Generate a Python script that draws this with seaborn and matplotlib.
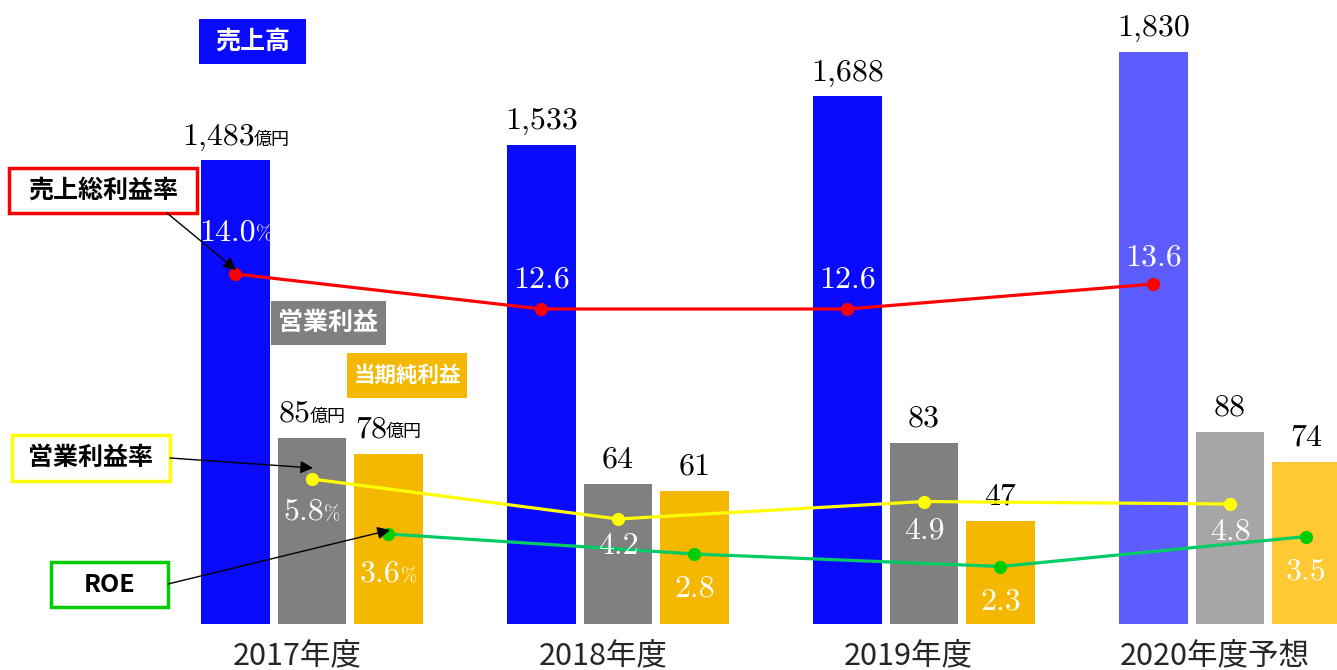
import numpy as np
import pandas as pd
import matplotlib
matplotlib.use("Agg")
import matplotlib.pyplot as plt
import matplotlib.colors as mcolors
import seaborn as sns
from matplotlib.offsetbox import TextArea, HPacker, AnnotationBbox
from matplotlib.patches import Rectangle, FancyArrowPatch

# ---------------- data ----------------
years = ["2017年度", "2018年度", "2019年度", "2020年度予想"]
series = ["売上高", "営業利益", "当期純利益"]
sales = [1483, 1533, 1688, 1830]
op_profit = [85, 64, 83, 88]
net_profit = [78, 61, 47, 74]
gross_margin = [14.0, 12.6, 12.6, 13.6]
op_margin = [5.8, 4.2, 4.9, 4.8]
roe = [3.6, 2.8, 2.3, 3.5]
sales_labels = ["1,483", "1,533", "1,688", "1,830"]
op_labels = ["85", "64", "83", "88"]
net_labels = ["78", "61", "47", "74"]
gross_labels = ["14.0", "12.6", "12.6", "13.6"]
op_m_labels = ["5.8", "4.2", "4.9", "4.8"]
roe_labels = ["3.6", "2.8", "2.3", "3.5"]

# ---------------- style ----------------
sns.set_theme(style="white")
plt.rcParams["font.family"] = ["Noto Sans CJK JP", "DejaVu Sans"]
NUM = "cmr10"
JP = ["Noto Sans CJK JP", "DejaVu Sans"]

palette = {"売上高": "#0A0AFF", "営業利益": "#808080", "当期純利益": "#F5B800"}
forecast = {"#0a0aff": "#5C5CFF", "#808080": "#A6A6A6", "#f5b800": "#FFC933"}

W, H = 1337, 670
fig = plt.figure(figsize=(W / 100, H / 100), dpi=100)
ax = fig.add_axes([0, 46 / H, 1, 624 / H])
ax2 = ax.twinx()
ax3 = ax.twinx()

df = pd.DataFrame({
    "年度": years * 3,
    "系列": np.repeat(series, len(years)),
    "値": sales + op_profit + net_profit,
})
common = dict(x="年度", y="値", hue="系列", hue_order=series, order=years,
              palette=palette, width=0.75, gap=0.105, saturation=1, dodge=True,
              errorbar=None, legend=False, linewidth=0)
sns.barplot(data=df[df["系列"] == "売上高"], ax=ax, **common)
sns.barplot(data=df[df["系列"] != "売上高"], ax=ax2, **common)

# forecast year in lighter colours
for a in (ax, ax2):
    for p in a.patches:
        if p.get_x() + p.get_width() / 2 > len(years) - 1.5:
            p.set_facecolor(forecast[mcolors.to_hex(p.get_facecolor())])

def bars_of(a, color):
    ok = (color.lower(), forecast[color.lower()].lower())
    ps = [p for p in a.patches if mcolors.to_hex(p.get_facecolor()) in ok]
    ps.sort(key=lambda p: p.get_x())
    return ps

sales_bars = bars_of(ax, palette["売上高"])
op_bars = bars_of(ax2, palette["営業利益"])
net_bars = bars_of(ax2, palette["当期純利益"])

ax.set_ylim(0, 1996)
ax2.set_ylim(0, 285.6)
ax3.set_ylim(0, 24.96)

def label(a, x, y, main, unit, color, dy, above=True, usize=13, ufam=JP, sep=-1):
    parts = [TextArea(main, textprops=dict(family=NUM, size=23, color=color))]
    if unit:
        parts.append(TextArea(unit, textprops=dict(family=ufam, size=usize, color=color)))
    box = HPacker(children=parts, align="baseline", pad=0, sep=sep)
    ab = AnnotationBbox(box, (x, y), xybox=(0, dy), xycoords="data",
                        boxcoords="offset points", frameon=False, pad=0,
                        box_alignment=(0.5, 0 if above else 1),
                        annotation_clip=False)
    ab.set_zorder(10)
    a.add_artist(ab)

# bar value labels
for i, p in enumerate(sales_bars):
    label(ax, p.get_x() + p.get_width() / 2, p.get_height(), sales_labels[i],
          "億円" if i == 0 else "", "black", 7)
for i, p in enumerate(op_bars):
    label(ax2, p.get_x() + p.get_width() / 2, p.get_height(), op_labels[i],
          "億円" if i == 0 else "", "black", 7.5)
for i, p in enumerate(net_bars):
    label(ax2, p.get_x() + p.get_width() / 2, p.get_height(), net_labels[i],
          "億円" if i == 0 else "", "black", 7.5)

# ratio lines
gx = [p.get_x() + p.get_width() / 2 for p in sales_bars]
ox = [p.get_x() + p.get_width() / 2 for p in op_bars]
nx = [p.get_x() + p.get_width() / 2 for p in net_bars]
sns.lineplot(x=gx, y=gross_margin, ax=ax3, color="#FF0000", linewidth=2.3,
             marker="o", markersize=9.5, markeredgewidth=0)
sns.lineplot(x=ox, y=op_margin, ax=ax3, color="#FFFF00", linewidth=2.3,
             marker="o", markersize=9.5, markeredgewidth=0)
sns.lineplot(x=nx, y=roe, ax=ax3, color="#00CC66", linewidth=2.3,
             marker="o", markersize=9.5, markeredgewidth=0,
             markerfacecolor="#00CC00")

red_dy = [20, 11, 11, 9]
yel_dy = [-14, -10, -11, -10]
grn_dy = [-19, -15, -15.5, -15.5]
for i in range(len(years)):
    label(ax3, gx[i], gross_margin[i], gross_labels[i], "%" if i == 0 else "",
          "white", red_dy[i], True, 14, NUM, 0)
    label(ax3, ox[i], op_margin[i], op_m_labels[i], "%" if i == 0 else "",
          "white", yel_dy[i], False, 14, NUM, 0)
    label(ax3, nx[i], roe[i], roe_labels[i], "%" if i == 0 else "",
          "white", grn_dy[i], False, 14, NUM, 0)

# axes cosmetics
for a in (ax, ax2, ax3):
    for s in a.spines.values():
        s.set_visible(False)
    a.yaxis.set_visible(False)
    a.set_xlabel("")
    a.set_ylabel("")
ax.set_xlim(-1.0196, 3.3497)
ax.set_xticks([c - 0.05 for c in ox])
ax.set_xticklabels(years, fontsize=22, family=JP)
ax.tick_params(axis="x", length=0, pad=12)

# legend-like label boxes (pixel layout, top-left origin)
def fx(x):
    return x / W

def fy(y):
    return 1 - y / H

def tag(x0, y0, x1, y1, text, fc, ec, tc, lw=0, size=18):
    r = Rectangle((fx(x0), fy(y1)), fx(x1) - fx(x0), fy(y0) - fy(y1),
                  transform=fig.transFigure, facecolor=fc, edgecolor=ec,
                  linewidth=lw, zorder=20)
    fig.add_artist(r)
    fig.text(fx((x0 + x1) / 2), fy((y0 + y1) / 2), text, ha="center", va="center",
             color=tc, fontsize=size, fontweight="bold", family=JP, zorder=21)

tag(199, 19, 306, 64, "売上高", "#0A0AFF", "none", "white")
tag(271, 301, 386, 345, "営業利益", "#808080", "none", "white")
tag(347, 353, 467, 398, "当期純利益", "#F5B800", "none", "white", size=15.5)
tag(9, 168, 197, 213, "売上総利益率", "white", "#FF0000", "black", 2.5)
tag(12, 435, 170, 481, "営業利益率", "white", "#FFFF00", "black", 2.5)
tag(51, 562, 168, 607, "ROE", "white", "#00CC00", "black", 2.5)

def arrow(x0, y0, x1, y1):
    a = FancyArrowPatch((fx(x0), fy(y0)), (fx(x1), fy(y1)),
                        transform=fig.transFigure,
                        arrowstyle="-|>,head_length=0.5,head_width=0.25",
                        mutation_scale=15, color="black", linewidth=1,
                        shrinkA=0, shrinkB=0, zorder=22)
    fig.add_artist(a)

arrow(167, 213, 236, 270)
arrow(170, 458, 313, 468)
arrow(168, 584, 390, 530)

fig.savefig("out.png", dpi=100)
